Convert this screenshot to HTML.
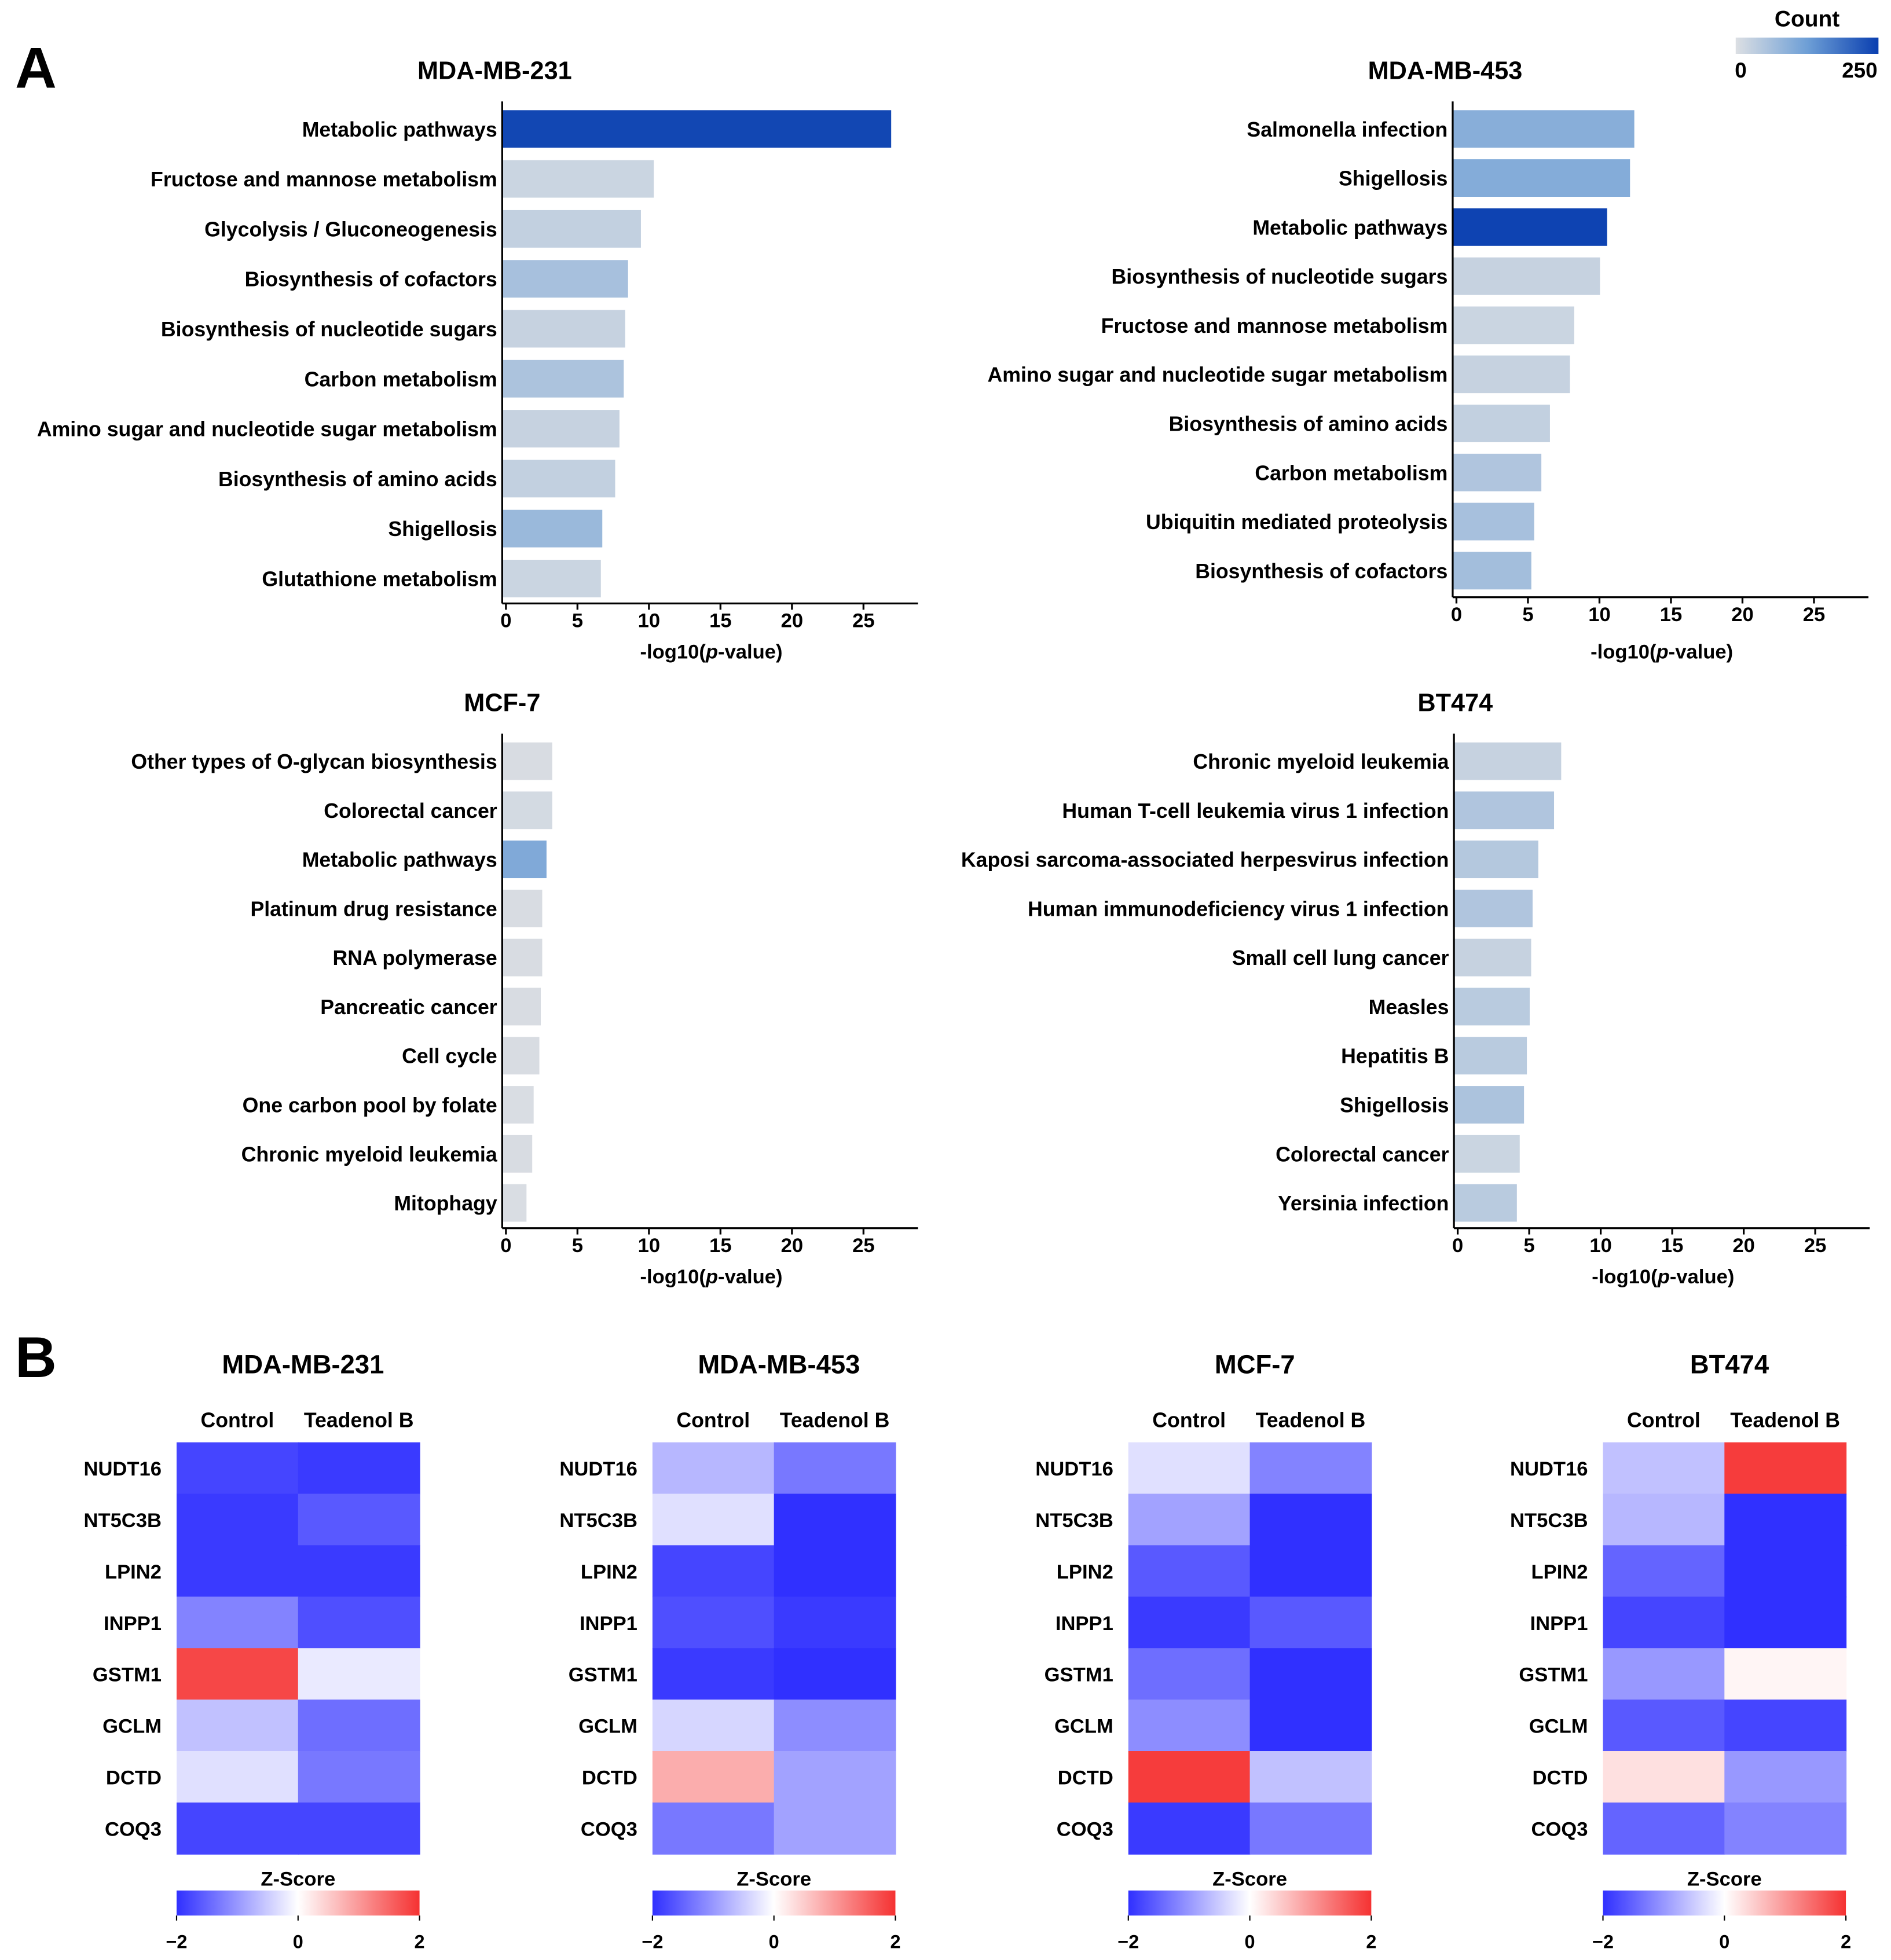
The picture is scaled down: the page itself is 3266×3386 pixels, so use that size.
<!DOCTYPE html>
<html><head><meta charset="utf-8"><style>
html,body{margin:0;padding:0;background:#fff}
svg{display:block;font-family:"Liberation Sans",Arial,sans-serif;font-weight:bold}
</style></head><body>
<svg id="root" width="3266" height="3386" viewBox="0 0 1510 1565.5" xmlns="http://www.w3.org/2000/svg">
<text x="12" y="70" font-size="46">A</text>
<text x="12" y="1100" font-size="46">B</text>
<g>
<defs>
<linearGradient id="cg" x1="0" x2="1"><stop offset="0" stop-color="#dcdfe3"/><stop offset="0.5" stop-color="#6e9fd6"/><stop offset="1" stop-color="#0a3fb0"/></linearGradient>
<linearGradient id="zg" x1="0" x2="1"><stop offset="0" stop-color="rgb(48,48,255)"/><stop offset="0.5" stop-color="#fff"/><stop offset="1" stop-color="rgb(245,50,50)"/></linearGradient>
</defs>
<text x="1443" y="21" font-size="18" text-anchor="middle">Count</text>
<rect x="1386" y="30" width="114" height="13" fill="url(#cg)"/>
<text x="1390" y="62" font-size="17" text-anchor="middle">0</text>
<text x="1485" y="62" font-size="17" text-anchor="middle">250</text>
</g>
<g id="bars"></g>
<g id="heat"></g>
</svg>
<script>
// Panel A data
const labels231=["Metabolic pathways","Fructose and mannose metabolism","Glycolysis / Gluconeogenesis","Biosynthesis of cofactors","Biosynthesis of nucleotide sugars","Carbon metabolism","Amino sugar and nucleotide sugar metabolism","Biosynthesis of amino acids","Shigellosis","Glutathione metabolism"];
const vals231=[27.2,10.6,9.7,8.8,8.6,8.5,8.2,7.9,7.0,6.9];
const counts231=[240,20,30,60,25,55,25,30,75,20];
const labels453=["Salmonella infection","Shigellosis","Metabolic pathways","Biosynthesis of nucleotide sugars","Fructose and mannose metabolism","Amino sugar and nucleotide sugar metabolism","Biosynthesis of amino acids","Carbon metabolism","Ubiquitin mediated proteolysis","Biosynthesis of cofactors"];
const vals453=[12.7,12.4,10.8,10.3,8.5,8.2,6.8,6.2,5.7,5.5];
const counts453=[95,100,245,25,20,25,30,50,60,65];
const labelsMCF=["Other types of O-glycan biosynthesis","Colorectal cancer","Metabolic pathways","Platinum drug resistance","RNA polymerase","Pancreatic cancer","Cell cycle","One carbon pool by folate","Chronic myeloid leukemia","Mitophagy"];
const valsMCF=[3.5,3.5,3.1,2.8,2.8,2.7,2.6,2.2,2.1,1.7];
const countsMCF=[5,10,105,5,5,5,5,3,5,3];
const labelsBT=["Chronic myeloid leukemia","Human T-cell leukemia virus 1 infection","Kaposi sarcoma-associated herpesvirus infection","Human immunodeficiency virus 1 infection","Small cell lung cancer","Measles","Hepatitis B","Shigellosis","Colorectal cancer","Yersinia infection"];
const valsBT=[7.5,7.0,5.9,5.5,5.4,5.3,5.1,4.9,4.6,4.4];
const countsBT=[25,50,45,50,25,40,40,55,20,40];
const xTicks=[0,5,10,15,20,25];

// Panel B data
const genes=["NUDT16","NT5C3B","LPIN2","INPP1","GSTM1","GCLM","DCTD","COQ3"];
const zCols=["Control","Teadenol B"];
const z231=[[-1.8,-1.9],[-1.9,-1.6],[-1.9,-1.9],[-1.2,-1.7],[1.8,-0.2],[-0.6,-1.4],[-0.3,-1.3],[-1.8,-1.8]];
const z453=[[-0.7,-1.3],[-0.3,-2.0],[-1.8,-2.0],[-1.7,-1.9],[-1.9,-2.0],[-0.4,-1.1],[0.8,-0.9],[-1.3,-0.9]];
const zMCF=[[-0.3,-1.2],[-0.9,-2.0],[-1.6,-2.0],[-1.9,-1.6],[-1.4,-2.0],[-1.1,-2.0],[1.9,-0.6],[-1.9,-1.3]];
const zBT=[[-0.6,1.9],[-0.7,-2.0],[-1.5,-2.0],[-1.8,-2.0],[-1.0,0.1],[-1.6,-1.8],[0.3,-1.0],[-1.5,-1.2]];
const zTicks=[-2,0,2];

const NS="http://www.w3.org/2000/svg";
function mk(tag,attrs,parent,text){const e=document.createElementNS(NS,tag);for(const k in attrs)e.setAttribute(k,attrs[k]);if(text!==undefined)e.textContent=text;parent.appendChild(e);return e;}
function lerp(a,b,t){return Math.round(a+(b-a)*t);}
function countColor(c){const t=Math.min(1,c/250);
 const s=[[220,223,227],[110,159,214],[10,63,176]];
 let a,b,u;if(t<0.5){a=s[0];b=s[1];u=t/0.5;}else{a=s[1];b=s[2];u=(t-0.5)/0.5;}
 return `rgb(${lerp(a[0],b[0],u)},${lerp(a[1],b[1],u)},${lerp(a[2],b[2],u)})`;}
function zColor(z){const t=Math.max(-1,Math.min(1,z/2));
 if(t<0){const u=-t;return `rgb(${lerp(255,48,u)},${lerp(255,48,u)},255)`;}
 return `rgb(${lerp(255,245,t)},${lerp(255,50,t)},${lerp(255,50,t)})`;}

const bars=document.getElementById('bars');
function barChart(name,title,labels,vals,counts,x0,titleX,titleY,row0,step,axisY,axTitleY){
 const g=mk('g',{},bars);
 
 
 const sx=v=>x0+v*11.42;
 const t=mk('text',{x:titleX,y:titleY,'font-size':20,'text-anchor':'middle'},g,title);
 
 
 labels.forEach((l,i)=>{const cy=row0+i*step;
  const r=mk('rect',{x:x0,y:cy-15,width:sx(vals[i])-x0,height:30,fill:countColor(counts[i])},g);
  
  
  const tx=mk('text',{x:x0-4,y:cy+6,'font-size':16.5,'text-anchor':'end'},g,l);
  
  
 });
 mk('line',{x1:x0,x2:x0,y1:row0-22,y2:axisY,stroke:'#000','stroke-width':1.5},g);
 mk('line',{x1:x0,x2:x0+332,y1:axisY,y2:axisY,stroke:'#000','stroke-width':1.5},g);
 xTicks.forEach(v=>{const x=sx(v)+3;
  mk('line',{x1:x,x2:x,y1:axisY,y2:axisY+5,stroke:'#000','stroke-width':1.5},g);
  const tl=mk('text',{x:x,y:axisY+19,'font-size':16,'text-anchor':'middle'},g,v);
  
  
 });
 const at=mk('text',{x:x0+167,y:axTitleY,'font-size':16,'text-anchor':'middle'},g);
 
 
 mk('tspan',{},at,'-log10(');mk('tspan',{'font-style':'italic'},at,'p');mk('tspan',{},at,'-value)');
}
barChart('chart-mda-mb-231','MDA-MB-231',labels231,vals231,counts231,401,395,63,103,39.9,482,526);
barChart('chart-mda-mb-453','MDA-MB-453',labels453,vals453,counts453,1160,1154,63,103,39.2,477,526);
barChart('chart-mcf-7','MCF-7',labelsMCF,valsMCF,countsMCF,401,401,568,608,39.2,981,1025);
barChart('chart-bt474','BT474',labelsBT,valsBT,countsBT,1161,1162,568,608,39.2,981,1025);

const heat=document.getElementById('heat');
function heatmap(name,title,data,x0){
 const g=mk('g',{},heat);
 
 
 const cw=97,ch=41.1,y0=1152;
 const t=mk('text',{x:x0+101,y:1097,'font-size':21,'text-anchor':'middle'},g,title);
 
 
 zCols.forEach((c,j)=>{const cl=mk('text',{x:x0+cw*j+cw/2,y:1140,'font-size':16.5,'text-anchor':'middle'},g,c);
  
  });
 genes.forEach((gn,i)=>{
  const rl=mk('text',{x:x0-12,y:y0+ch*i+ch/2+6,'font-size':16,'text-anchor':'end'},g,gn);
  
  
  data[i].forEach((z,j)=>{const r=mk('rect',{x:x0+cw*j,y:y0+ch*i,width:cw+0.5,height:ch+0.5,fill:zColor(z)},g);
   
   });
 });
 const zl=mk('text',{x:x0+97,y:1506,'font-size':16,'text-anchor':'middle'},g,'Z-Score');
 
 
 const cb=mk('rect',{x:x0,y:1510,width:194,height:20,fill:'url(#zg)'},g);
 
 
 zTicks.forEach(v=>{const x=x0+(v+2)/4*194;
  mk('line',{x1:x,x2:x,y1:1530,y2:1534,stroke:'#000'},g);
  const tl=mk('text',{x:x,y:1556,'font-size':15,'text-anchor':'middle'},g,v<0?'\u2212'+(-v):v);
  
  });
}
heatmap('heatmap-mda-mb-231','MDA-MB-231',z231,141);
heatmap('heatmap-mda-mb-453','MDA-MB-453',z453,521);
heatmap('heatmap-mcf-7','MCF-7',zMCF,901);
heatmap('heatmap-bt474','BT474',zBT,1280);
</script>
</body></html>
